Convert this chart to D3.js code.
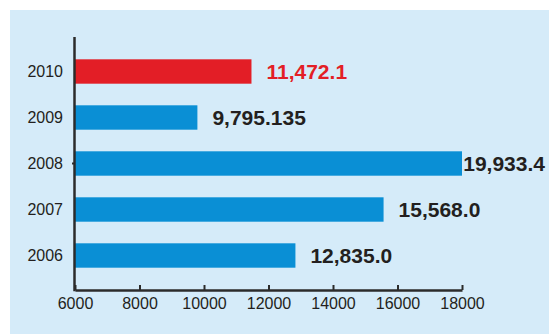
<!DOCTYPE html>
<html>
<head>
<meta charset="utf-8">
<script src="https://cdn.jsdelivr.net/npm/d3@7/dist/d3.min.js"></script>
<style>
  html, body { margin: 0; padding: 0; background: #ffffff; }
  svg { display: block; }
</style>
</head>
<body>
<svg id="chart" width="549" height="334"></svg>
<script>
// Annual values, newest year on top
const years = ["2010", "2009", "2008", "2007", "2006"];
const values = [11472.1, 9795.135, 19933.4, 15568.0, 12835.0];
const valueLabels = ["11,472.1", "9,795.135", "19,933.4", "15,568.0", "12,835.0"];
const highlightYear = "2010";
const xTicks = [6000, 8000, 10000, 12000, 14000, 16000, 18000];

const svg = d3.select("#chart");
const W = 549, H = 334;
const font = "'Liberation Sans', Arial, sans-serif";

// light blue panel
svg.append("rect")
  .attr("x", 10).attr("y", 10)
  .attr("width", W - 10).attr("height", H - 10)
  .attr("fill", "#d5ebf9");

const x = d3.scaleLinear()
  .domain([6000, 18000])
  .range([75, 462])
  .clamp(true);

const y = d3.scaleBand()
  .domain(years)
  .range([48.5, 278.5])
  .paddingInner(0.47)
  .paddingOuter(0.235);

const axisY = 290;

// bars
svg.append("g").selectAll("rect")
  .data(years)
  .join("rect")
  .attr("x", x(6000))
  .attr("y", d => y(d))
  .attr("width", (d, i) => x(values[i]) - x(6000))
  .attr("height", y.bandwidth())
  .attr("fill", d => d === highlightYear ? "#e31e26" : "#0a8fd5");

// value labels, kept inside the panel's right edge
svg.append("g").selectAll("text")
  .data(years)
  .join("text")
  .attr("y", d => y(d) + y.bandwidth() / 2)
  .attr("dy", "0.36em")
  .attr("font-family", font)
  .attr("font-weight", "bold")
  .attr("font-size", 21)
  .attr("fill", d => d === highlightYear ? "#e31e26" : "#231f20")
  .text((d, i) => valueLabels[i])
  .attr("x", function (d, i) {
    const len = this.getComputedTextLength();
    return Math.min(x(values[i]) + 15, W - 4 - len);
  });

// year labels
svg.append("g").selectAll("text")
  .data(years)
  .join("text")
  .attr("x", 63)
  .attr("y", d => y(d) + y.bandwidth() / 2)
  .attr("dy", "0.36em")
  .attr("text-anchor", "end")
  .attr("font-family", font)
  .attr("font-size", 16)
  .attr("fill", "#231f20")
  .text(d => d);

// bottom value axis, ticks pointing up
const xAxis = d3.axisBottom(x)
  .tickValues(xTicks)
  .tickFormat(d3.format("d"))
  .tickSizeInner(-5)
  .tickSizeOuter(0)
  .tickPadding(8);

const gx = svg.append("g")
  .attr("transform", `translate(0,${axisY})`)
  .call(xAxis);
gx.select(".domain").attr("stroke", "#2b2b2b").attr("stroke-width", 2.5);
gx.selectAll(".tick line").attr("stroke", "#2b2b2b").attr("stroke-width", 2);
gx.selectAll(".tick text")
  .attr("font-family", font)
  .attr("font-size", 16)
  .attr("fill", "#231f20");

// vertical category axis line
svg.append("line")
  .attr("x1", 74.5).attr("x2", 74.5)
  .attr("y1", 37).attr("y2", axisY + 1.25)
  .attr("stroke", "#2b2b2b")
  .attr("stroke-width", 2.5);

// small mark beside 2008
svg.append("line")
  .attr("x1", 72).attr("x2", 74.5)
  .attr("y1", y("2008") + y.bandwidth() / 2)
  .attr("y2", y("2008") + y.bandwidth() / 2)
  .attr("stroke", "#2b2b2b")
  .attr("stroke-width", 2);
</script>
</body>
</html>
